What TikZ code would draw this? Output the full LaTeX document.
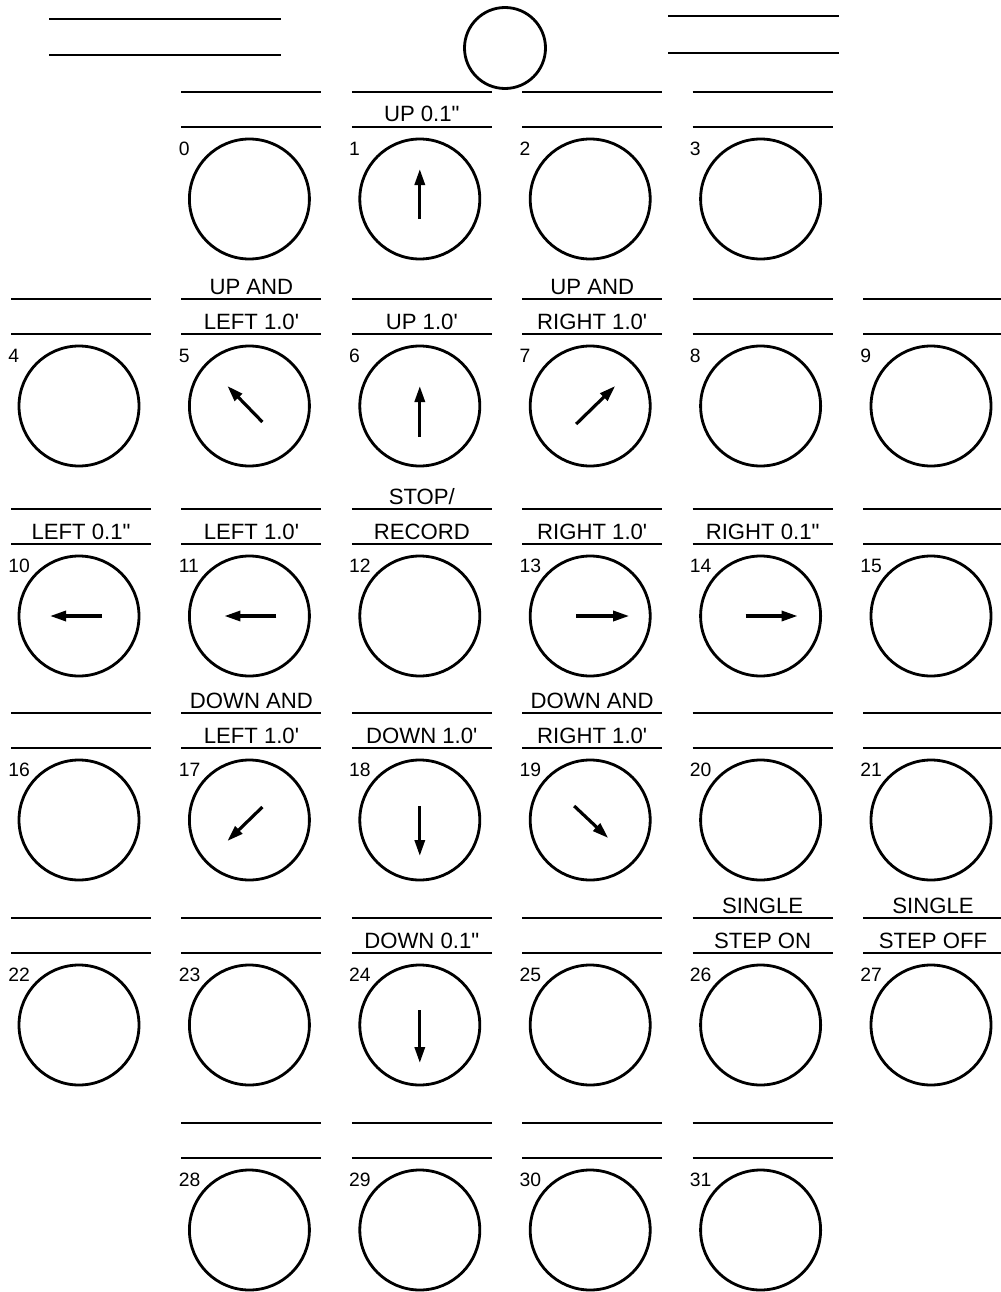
\documentclass[tikz,border=0pt]{standalone}
\usepackage{fontspec}
\setmainfont{Liberation Sans}
\usetikzlibrary{arrows.meta}

\begin{document}
\begin{tikzpicture}[
    x=0.2mm, y=-0.2mm,
    key/.style={circle, draw, line width=1.6pt, minimum size=24mm, inner sep=0pt},
    lamp/.style={key, minimum size=16.2mm},
    rule/.style={line width=1.6pt},
    tag/.style={anchor=base, inner sep=0pt, font=\fontsize{12.6}{14}\selectfont},
    num/.style={anchor=west, inner sep=0pt, font=\fontsize{11}{13}\selectfont},
    dir/.style={line width=1.8pt, -{Triangle[length=3.2mm, width=2mm]}}
]
\useasboundingbox (0,0) rectangle (1000,1292);

% Header
\draw[rule] (49,19) -- (281,19);
\draw[rule] (49,55) -- (281,55);
\node[lamp] (pilot) at (505,48) {};
\draw[rule] (668,16) -- (839,16);
\draw[rule] (668,53) -- (839,53);

% Keys: row / centre y / first and last column / first key number
\foreach \row/\y/\first/\last/\base in {0/199/1/4/0, 1/406/0/5/4, 2/616/0/5/10,
                                       3/820/0/5/16, 4/1025/0/5/22, 5/1230/1/4/28} {
  \foreach \col in {\first,...,\last} {
    \pgfmathtruncatemacro{\k}{\base+\col-\first}
    \pgfmathsetmacro{\x}{79+170.4*\col}
    \node[key] (k\k) at (\x,\y) {};
    \node[num] (n\k) at ([shift={(-71,-50)}]k\k.center) {\k};
    \draw[rule] ([shift={(-68,-107)}]k\k.center) -- ([shift={(72,-107)}]k\k.center);
    \draw[rule] ([shift={(-68,-72)}]k\k.center) -- ([shift={(72,-72)}]k\k.center);
  }
}

% Labels between the rules
\foreach \k/\txt in {1/UP 0.1\textquotedbl, 5/LEFT 1.0\textquotesingle,
                     6/UP 1.0\textquotesingle, 7/RIGHT 1.0\textquotesingle,
                     10/LEFT 0.1\textquotedbl, 11/LEFT 1.0\textquotesingle,
                     12/RECORD, 13/RIGHT 1.0\textquotesingle,
                     14/RIGHT 0.1\textquotedbl, 17/LEFT 1.0\textquotesingle,
                     18/DOWN 1.0\textquotesingle, 19/RIGHT 1.0\textquotesingle,
                     24/DOWN 0.1\textquotedbl, 26/STEP ON, 27/STEP OFF}
  \node[tag] (t\k) at ([shift={(2,-77)}]k\k.center) {\txt};

% Labels above the upper rule
\node[tag] (u5) at ([shift={(2,-112)}]k5.center) {UP AND};
\node[tag] (u7) at ([shift={(2,-112)}]k7.center) {UP AND};
\node[tag] (u12) at ([shift={(2,-112)}]k12.center) {STOP/};
\node[tag] (u17) at ([shift={(2,-112)}]k17.center) {DOWN AND};
\node[tag] (u19) at ([shift={(2,-112)}]k19.center) {DOWN AND};
\node[tag] (u26) at ([shift={(2,-112)}]k26.center) {SINGLE};
\node[tag] (u27) at ([shift={(2,-112)}]k27.center) {SINGLE};

% Direction arrows
\foreach \k/\ax/\ay/\bx/\by in {1/0/20/0/-30, 5/13/16/-22/-20, 6/0/31/0/-20,
                                7/-14/18/25/-20, 10/23/0/-29/0, 11/27/0/-25/0,
                                13/-14/0/39/0, 14/-15/0/37/0, 17/13/-13/-22/21,
                                18/0/-14/0/36, 19/-16/-14/18/18, 24/0/-15/0/38}
  \draw[dir] ([shift={(\ax,\ay)}]k\k.center) -- ([shift={(\bx,\by)}]k\k.center);

\end{tikzpicture}
\end{document}
